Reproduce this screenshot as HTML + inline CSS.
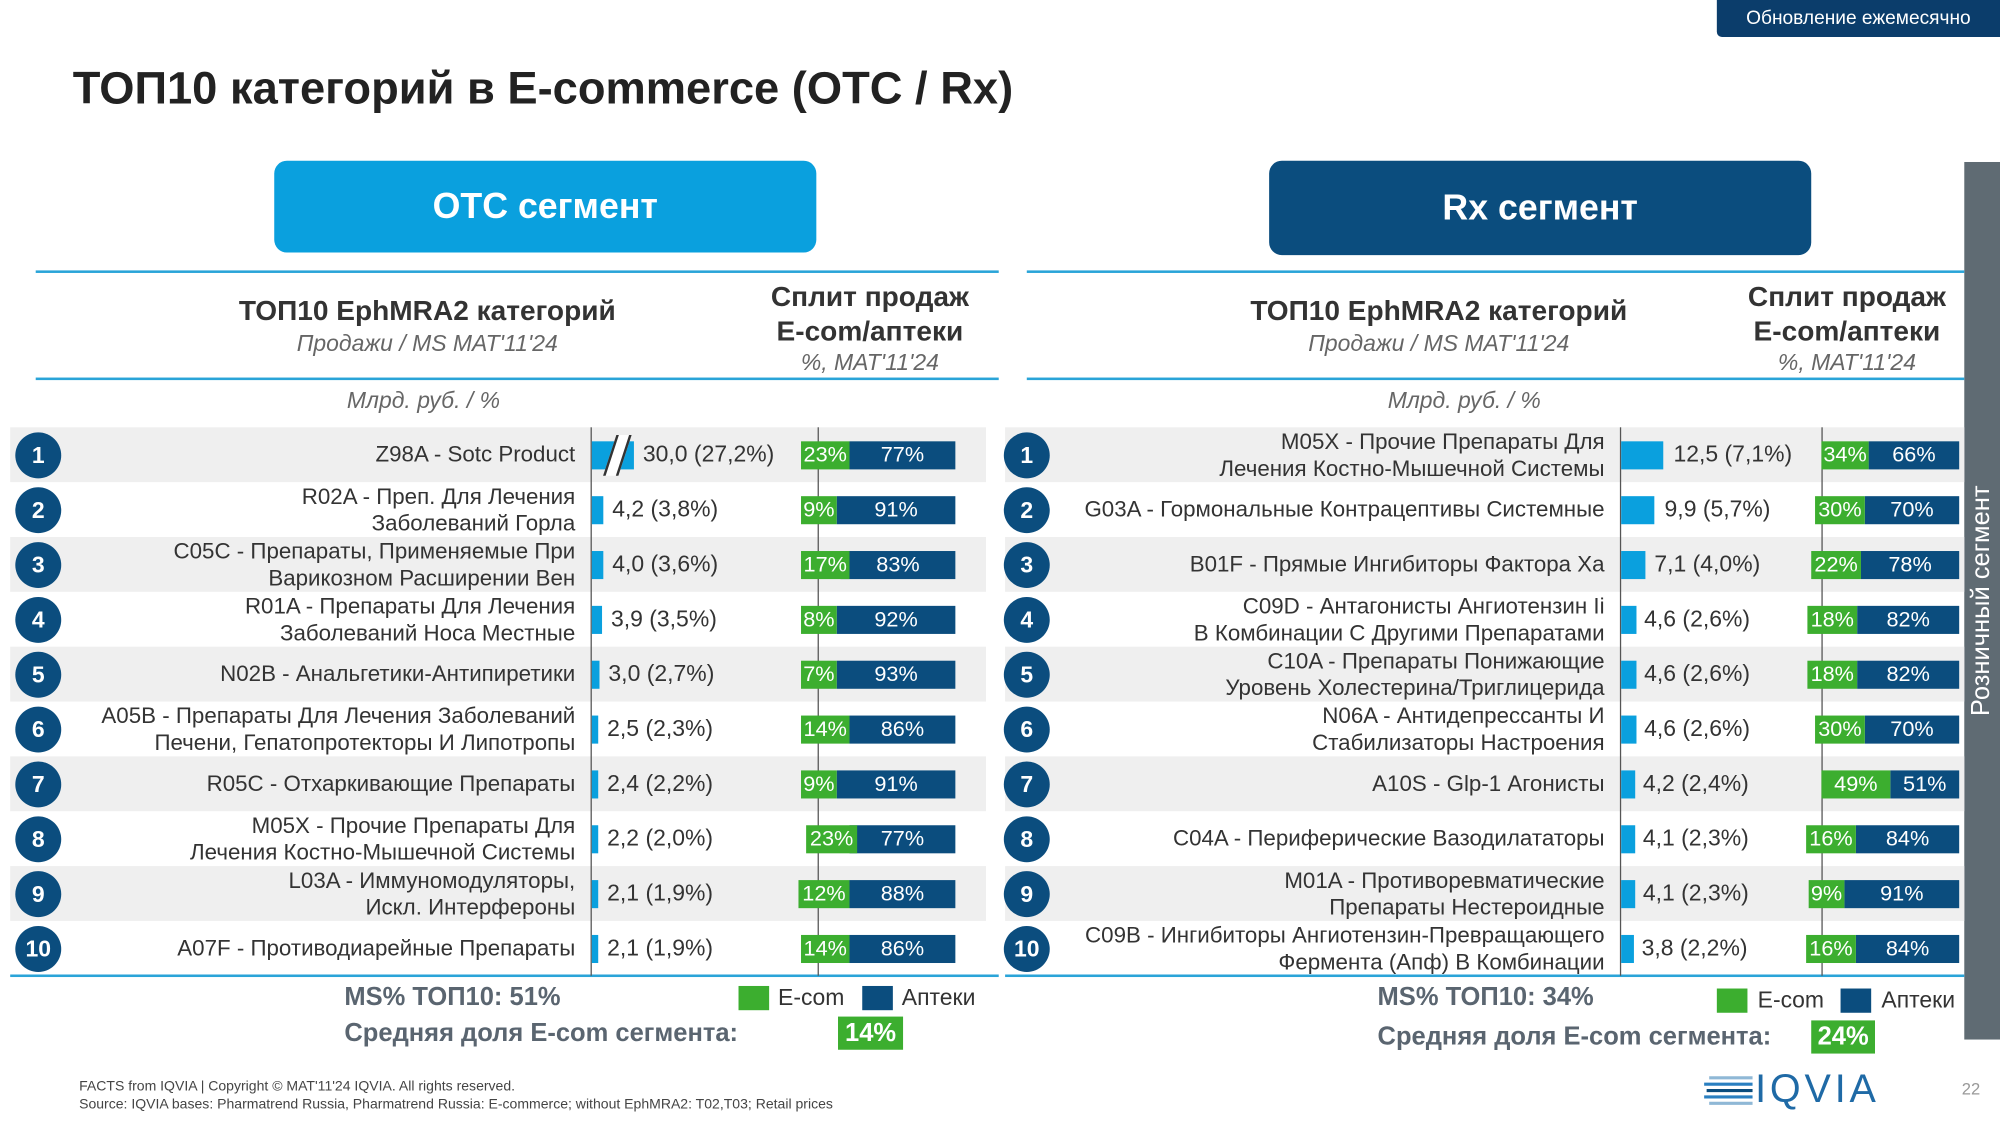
<!DOCTYPE html>
<html><head><meta charset="utf-8"><style>
html,body{margin:0;padding:0;background:#fff;overflow:hidden}
#w{position:absolute;left:0;top:0;width:1568px;height:882px;transform:scale(1.27551,1.27551);transform-origin:0 0;font-family:"Liberation Sans",sans-serif;color:#333}
.a{position:absolute}
.row{position:absolute;left:0;width:1568px;height:43px}
.bg{position:absolute;top:0;height:43px;background:#efefef;z-index:0}
.c{position:absolute;top:4px;width:36px;height:36px;border-radius:50%;background:#0b4d7e;color:#fff;font-weight:bold;font-size:18px;line-height:36px;text-align:center;z-index:3}
.l{position:absolute;top:0;height:43px;display:flex;align-items:center;justify-content:flex-end;text-align:right;font-size:17.5px;line-height:21px;color:#333;z-index:3}
.b{position:absolute;top:11px;height:22px;background:#0aa0de;z-index:3}
.v{position:absolute;top:0;line-height:43px;font-size:18px;color:#333;z-index:3}
.n{position:absolute;top:11px;height:22px;background:#0b4d7e;color:#fff;font-size:17px;line-height:22px;text-align:center;z-index:3}
.g{position:absolute;top:11px;height:22px;background:#3cae2f;color:#fff;font-size:17px;line-height:22px;text-align:center;z-index:4}
.vl{position:absolute;width:1px;background:#555;z-index:2}
.hl{position:absolute;height:2px;background:#2aa4d8}
.h{position:absolute;font-weight:bold;font-size:22px;color:#333;text-align:center}
.it{position:absolute;font-style:italic;font-size:18px;color:#666;text-align:center}
.sk{z-index:5}
</style></head><body><div id="w">
<div class="a" style="left:1346px;top:0;width:222px;height:29px;background:#0b3d6b;color:#fff;font-size:15px;line-height:29px;text-align:center;border-bottom-left-radius:4px">Обновление ежемесячно</div>
<div class="a" style="left:57px;top:49px;font-size:35.5px;font-weight:bold;color:#222">ТОП10 категорий в E-commerce (OTC / Rx)</div>
<div class="a" style="left:215px;top:126px;width:425px;height:72px;background:#0aa0de;border-radius:10px;color:#fff;font-weight:bold;font-size:28px;line-height:72px;text-align:center">OTC сегмент</div>
<div class="a" style="left:995px;top:126px;width:425px;height:74px;background:#0b4d7e;border-radius:10px;color:#fff;font-weight:bold;font-size:28px;line-height:74px;text-align:center">Rx сегмент</div>
<div class="a" style="left:1540px;top:127px;width:28px;height:688px;background:#5f6b73"></div>
<div class="a" style="left:1554px;top:471px;transform:translate(-50%,-50%) rotate(-90deg);color:#fff;font-size:20px;white-space:nowrap">Розничный сегмент</div>

<div class="hl" style="left:28px;top:212px;width:755px"></div>
<div class="hl" style="left:28px;top:296px;width:755px"></div>
<div class="hl" style="left:805px;top:212px;width:735px"></div>
<div class="hl" style="left:805px;top:296px;width:735px"></div>

<div class="h" style="left:135px;top:231px;width:400px">ТОП10 EphMRA2 категорий</div>
<div class="it" style="left:135px;top:259px;width:400px">Продажи / MS MAT'11'24</div>
<div class="h" style="left:572px;top:219px;width:220px;line-height:27px">Сплит продаж<br>E-com/аптеки</div>
<div class="it" style="left:572px;top:274px;width:220px">%, MAT'11'24</div>
<div class="it" style="left:232px;top:304px;width:200px">Млрд. руб. / %</div>

<div class="h" style="left:928px;top:231px;width:400px">ТОП10 EphMRA2 категорий</div>
<div class="it" style="left:928px;top:259px;width:400px">Продажи / MS MAT'11'24</div>
<div class="h" style="left:1338px;top:219px;width:220px;line-height:27px">Сплит продаж<br>E-com/аптеки</div>
<div class="it" style="left:1338px;top:274px;width:220px">%, MAT'11'24</div>
<div class="it" style="left:1048px;top:304px;width:200px">Млрд. руб. / %</div>

<!-- OTC rows -->
<div class="row" style="top:335px"><div class="bg" style="left:8px;width:765px"></div><div class="c" style="left:12px">1</div><div class="l" style="left:40px;width:411px">Z98A - Sotc Product</div><div class="b" style="left:464px;width:33px"></div><div class="a sk" style="left:478px;top:6px;width:8px;height:32px;border-left:2px solid #333;border-right:2px solid #333;background:#fff;transform:skewX(-18deg)"></div><div class="v" style="left:504px">30,0 (27,2%)</div><div class="n" style="left:666px;width:83px">77%</div><div class="g" style="left:628px;width:38px">23%</div></div>
<div class="row" style="top:378px"><div class="c" style="left:12px">2</div><div class="l" style="left:40px;width:411px">R02A - Преп. Для Лечения<br>Заболеваний Горла</div><div class="b" style="left:464px;width:9px"></div><div class="v" style="left:480px">4,2 (3,8%)</div><div class="n" style="left:656px;width:93px">91%</div><div class="g" style="left:628px;width:28px">9%</div></div>
<div class="row" style="top:421px"><div class="bg" style="left:8px;width:765px"></div><div class="c" style="left:12px">3</div><div class="l" style="left:40px;width:411px">C05C - Препараты, Применяемые При<br>Варикозном Расширении Вен</div><div class="b" style="left:464px;width:9px"></div><div class="v" style="left:480px">4,0 (3,6%)</div><div class="n" style="left:659px;width:90px">83%</div><div class="g" style="left:628px;width:38px">17%</div></div>
<div class="row" style="top:464px"><div class="c" style="left:12px">4</div><div class="l" style="left:40px;width:411px">R01A - Препараты Для Лечения<br>Заболеваний Носа Местные</div><div class="b" style="left:464px;width:8px"></div><div class="v" style="left:479px">3,9 (3,5%)</div><div class="n" style="left:656px;width:93px">92%</div><div class="g" style="left:628px;width:28px">8%</div></div>
<div class="row" style="top:507px"><div class="bg" style="left:8px;width:765px"></div><div class="c" style="left:12px">5</div><div class="l" style="left:40px;width:411px">N02B - Анальгетики-Антипиретики</div><div class="b" style="left:464px;width:6px"></div><div class="v" style="left:477px">3,0 (2,7%)</div><div class="n" style="left:656px;width:93px">93%</div><div class="g" style="left:628px;width:28px">7%</div></div>
<div class="row" style="top:550px"><div class="c" style="left:12px">6</div><div class="l" style="left:40px;width:411px">A05B - Препараты Для Лечения Заболеваний<br>Печени, Гепатопротекторы И Липотропы</div><div class="b" style="left:464px;width:5px"></div><div class="v" style="left:476px">2,5 (2,3%)</div><div class="n" style="left:666px;width:83px">86%</div><div class="g" style="left:628px;width:38px">14%</div></div>
<div class="row" style="top:593px"><div class="bg" style="left:8px;width:765px"></div><div class="c" style="left:12px">7</div><div class="l" style="left:40px;width:411px">R05C - Отхаркивающие Препараты</div><div class="b" style="left:464px;width:5px"></div><div class="v" style="left:476px">2,4 (2,2%)</div><div class="n" style="left:656px;width:93px">91%</div><div class="g" style="left:628px;width:28px">9%</div></div>
<div class="row" style="top:636px"><div class="c" style="left:12px">8</div><div class="l" style="left:40px;width:411px">M05X - Прочие Препараты Для<br>Лечения Костно-Мышечной Системы</div><div class="b" style="left:464px;width:5px"></div><div class="v" style="left:476px">2,2 (2,0%)</div><div class="n" style="left:666px;width:83px">77%</div><div class="g" style="left:632px;width:40px">23%</div></div>
<div class="row" style="top:679px"><div class="bg" style="left:8px;width:765px"></div><div class="c" style="left:12px">9</div><div class="l" style="left:40px;width:411px">L03A - Иммуномодуляторы,<br>Искл. Интерфероны</div><div class="b" style="left:464px;width:5px"></div><div class="v" style="left:476px">2,1 (1,9%)</div><div class="n" style="left:666px;width:83px">88%</div><div class="g" style="left:626px;width:40px">12%</div></div>
<div class="row" style="top:722px"><div class="c" style="left:12px">10</div><div class="l" style="left:40px;width:411px">A07F - Противодиарейные Препараты</div><div class="b" style="left:464px;width:5px"></div><div class="v" style="left:476px">2,1 (1,9%)</div><div class="n" style="left:666px;width:83px">86%</div><div class="g" style="left:628px;width:38px">14%</div></div>

<!-- Rx rows -->
<div class="row" style="top:335px"><div class="bg" style="left:788px;width:752px"></div><div class="c" style="left:787px">1</div><div class="l" style="left:820px;width:438px">M05X - Прочие Препараты Для<br>Лечения Костно-Мышечной Системы</div><div class="b" style="left:1271px;width:33px"></div><div class="v" style="left:1312px">12,5 (7,1%)</div><div class="n" style="left:1465px;width:71px">66%</div><div class="g" style="left:1428px;width:37px">34%</div></div>
<div class="row" style="top:378px"><div class="c" style="left:787px">2</div><div class="l" style="left:820px;width:438px">G03A - Гормональные Контрацептивы Системные</div><div class="b" style="left:1271px;width:26px"></div><div class="v" style="left:1305px">9,9 (5,7%)</div><div class="n" style="left:1462px;width:74px">70%</div><div class="g" style="left:1423px;width:39px">30%</div></div>
<div class="row" style="top:421px"><div class="bg" style="left:788px;width:752px"></div><div class="c" style="left:787px">3</div><div class="l" style="left:820px;width:438px">B01F - Прямые Ингибиторы Фактора Ха</div><div class="b" style="left:1271px;width:19px"></div><div class="v" style="left:1297px">7,1 (4,0%)</div><div class="n" style="left:1459px;width:77px">78%</div><div class="g" style="left:1420px;width:39px">22%</div></div>
<div class="row" style="top:464px"><div class="c" style="left:787px">4</div><div class="l" style="left:820px;width:438px">C09D - Антагонисты Ангиотензин Ii<br>В Комбинации С Другими Препаратами</div><div class="b" style="left:1271px;width:12px"></div><div class="v" style="left:1289px">4,6 (2,6%)</div><div class="n" style="left:1456px;width:80px">82%</div><div class="g" style="left:1417px;width:39px">18%</div></div>
<div class="row" style="top:507px"><div class="bg" style="left:788px;width:752px"></div><div class="c" style="left:787px">5</div><div class="l" style="left:820px;width:438px">C10A - Препараты Понижающие<br>Уровень Холестерина/Триглицерида</div><div class="b" style="left:1271px;width:12px"></div><div class="v" style="left:1289px">4,6 (2,6%)</div><div class="n" style="left:1456px;width:80px">82%</div><div class="g" style="left:1417px;width:39px">18%</div></div>
<div class="row" style="top:550px"><div class="c" style="left:787px">6</div><div class="l" style="left:820px;width:438px">N06A - Антидепрессанты И<br>Стабилизаторы Настроения</div><div class="b" style="left:1271px;width:12px"></div><div class="v" style="left:1289px">4,6 (2,6%)</div><div class="n" style="left:1462px;width:74px">70%</div><div class="g" style="left:1423px;width:39px">30%</div></div>
<div class="row" style="top:593px"><div class="bg" style="left:788px;width:752px"></div><div class="c" style="left:787px">7</div><div class="l" style="left:820px;width:438px">A10S - Glp-1 Агонисты</div><div class="b" style="left:1271px;width:11px"></div><div class="v" style="left:1288px">4,2 (2,4%)</div><div class="n" style="left:1482px;width:54px">51%</div><div class="g" style="left:1428px;width:54px">49%</div></div>
<div class="row" style="top:636px"><div class="c" style="left:787px">8</div><div class="l" style="left:820px;width:438px">C04A - Периферические Вазодилататоры</div><div class="b" style="left:1271px;width:11px"></div><div class="v" style="left:1288px">4,1 (2,3%)</div><div class="n" style="left:1455px;width:81px">84%</div><div class="g" style="left:1416px;width:39px">16%</div></div>
<div class="row" style="top:679px"><div class="bg" style="left:788px;width:752px"></div><div class="c" style="left:787px">9</div><div class="l" style="left:820px;width:438px">M01A - Противоревматические<br>Препараты Нестероидные</div><div class="b" style="left:1271px;width:11px"></div><div class="v" style="left:1288px">4,1 (2,3%)</div><div class="n" style="left:1446px;width:90px">91%</div><div class="g" style="left:1418px;width:28px">9%</div></div>
<div class="row" style="top:722px"><div class="c" style="left:787px">10</div><div class="l" style="left:820px;width:438px">C09B - Ингибиторы Ангиотензин-Превращающего<br>Фермента (Апф) В Комбинации</div><div class="b" style="left:1271px;width:10px"></div><div class="v" style="left:1287px">3,8 (2,2%)</div><div class="n" style="left:1455px;width:81px">84%</div><div class="g" style="left:1416px;width:39px">16%</div></div>

<div class="vl" style="left:463px;top:335px;height:430px"></div>
<div class="vl" style="left:641px;top:335px;height:430px"></div>
<div class="vl" style="left:1270px;top:335px;height:430px"></div>
<div class="vl" style="left:1428px;top:335px;height:430px"></div>
<div class="hl" style="left:8px;top:764px;width:775px"></div>
<div class="hl" style="left:788px;top:764px;width:752px"></div>

<div class="a" style="left:270px;top:771px;font-weight:bold;font-size:20px;color:#5a6570">MS% ТОП10: 51%</div>
<div class="a" style="left:579px;top:773px;width:24px;height:19px;background:#3cae2f"></div>
<div class="a" style="left:610px;top:772px;font-size:18px">E-com</div>
<div class="a" style="left:676px;top:773px;width:24px;height:19px;background:#0b4d7e"></div>
<div class="a" style="left:707px;top:772px;font-size:18px">Аптеки</div>
<div class="a" style="left:270px;top:799px;font-weight:bold;font-size:20px;color:#5a6570">Средняя доля E-com сегмента:</div>
<div class="a" style="left:657px;top:797px;width:51px;height:26px;background:#3cae2f;color:#fff;font-weight:bold;font-size:20px;line-height:26px;text-align:center">14%</div>

<div class="a" style="left:1080px;top:771px;font-weight:bold;font-size:20px;color:#5a6570">MS% ТОП10: 34%</div>
<div class="a" style="left:1346px;top:775px;width:24px;height:19px;background:#3cae2f"></div>
<div class="a" style="left:1378px;top:774px;font-size:18px">E-com</div>
<div class="a" style="left:1443px;top:775px;width:24px;height:19px;background:#0b4d7e"></div>
<div class="a" style="left:1475px;top:774px;font-size:18px">Аптеки</div>
<div class="a" style="left:1080px;top:802px;font-weight:bold;font-size:20px;color:#5a6570">Средняя доля E-com сегмента:</div>
<div class="a" style="left:1420px;top:800px;width:50px;height:26px;background:#3cae2f;color:#fff;font-weight:bold;font-size:20px;line-height:26px;text-align:center">24%</div>

<div class="a" style="left:62px;top:845px;font-size:11px;color:#444;line-height:14px">FACTS from IQVIA | Copyright © MAT'11'24 IQVIA. All rights reserved.<br>Source: IQVIA bases: Pharmatrend Russia, Pharmatrend Russia: E-commerce; without EphMRA2: T02,T03; Retail prices</div>
<svg class="a" style="left:1336px;top:843px" width="40" height="24"><g stroke-width="2.4"><line x1="4" y1="2" x2="38" y2="2" stroke="#8fb8d6"/><line x1="0" y1="7" x2="38" y2="7" stroke="#2a7fc0"/><line x1="2" y1="12" x2="38" y2="12" stroke="#0b4d7e"/><line x1="0" y1="17" x2="38" y2="17" stroke="#2a7fc0"/><line x1="4" y1="22" x2="38" y2="22" stroke="#8fb8d6"/></g></svg>
<div class="a" style="left:1376px;top:836px;font-size:31px;color:#1f6aa6;letter-spacing:3px">IQVIA</div>
<div class="a" style="left:1538px;top:846px;font-size:13px;color:#999">22</div>
</div></body></html>
